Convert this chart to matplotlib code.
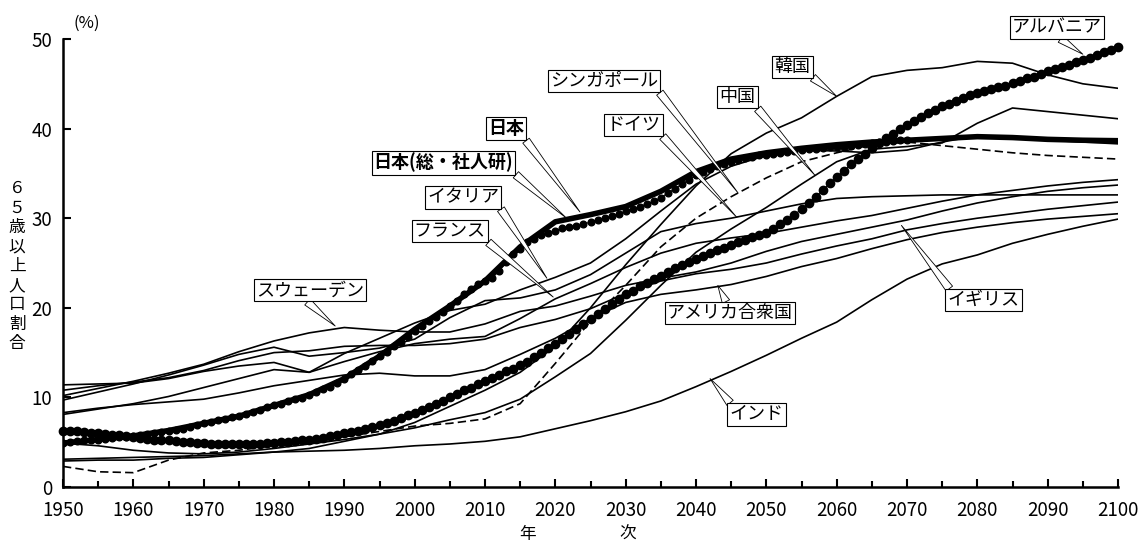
import numpy as np
import matplotlib
matplotlib.use("Agg")
import matplotlib.pyplot as plt
from matplotlib import font_manager as fm
from matplotlib.ticker import MultipleLocator

plt.rcParams['font.family'] = ['Noto Sans CJK JP', 'DejaVu Sans']

_names = {f.name for f in fm.fontManager.ttflist}
NUM_FONT = ['Liberation Sans Narrow', 'Noto Sans CJK JP'] if 'Liberation Sans Narrow' in _names else ['Noto Sans CJK JP', 'DejaVu Sans']

# ---------------- data (percent aged 65+) ----------------
years5 = list(range(1950, 2101, 5))

japan_un = [4.9, 5.3, 5.7, 6.3, 7.1, 7.9, 9.1, 10.3, 12.1, 14.6, 17.6, 20.2, 23.0, 26.8, 29.6, 30.4,
            31.3, 33.0, 35.2, 36.6, 37.3, 37.8, 38.2, 38.5, 38.7, 38.9, 39.1, 39.0, 38.8, 38.7, 38.65]
sweden = [10.2, 11.0, 11.8, 12.7, 13.7, 15.1, 16.3, 17.2, 17.8, 17.5, 17.3, 17.3, 18.2, 19.6, 20.2, 21.3,
          22.5, 23.3, 24.0, 25.0, 26.3, 27.4, 28.2, 29.0, 29.8, 30.8, 31.7, 32.4, 33.0, 33.4, 33.7]
france = [11.4, 11.5, 11.6, 12.1, 12.9, 13.5, 13.9, 12.8, 14.0, 15.1, 16.0, 16.5, 16.8, 18.8, 21.0, 22.7,
          24.5, 26.1, 27.2, 27.8, 28.3, 29.0, 29.7, 30.3, 31.1, 31.9, 32.6, 33.1, 33.6, 34.0, 34.3]
germany = [9.7, 10.6, 11.5, 12.5, 13.6, 14.8, 15.6, 14.6, 15.0, 15.5, 16.5, 18.9, 20.8, 21.1, 22.0, 23.7,
           26.1, 28.5, 29.4, 30.0, 30.8, 31.6, 32.2, 32.4, 32.5, 32.6, 32.6, 32.6, 32.6, 32.6, 32.6]
italy = [8.1, 8.7, 9.3, 10.1, 11.1, 12.1, 13.1, 12.8, 14.9, 16.6, 18.3, 19.7, 20.4, 22.0, 23.4, 25.0,
         27.7, 30.8, 33.8, 35.8, 37.0, 37.6, 37.5, 37.3, 37.6, 38.5, 39.2, 39.0, 38.7, 38.5, 38.3]
uk = [10.8, 11.3, 11.7, 12.2, 13.0, 14.1, 15.0, 15.2, 15.7, 15.8, 15.8, 16.0, 16.5, 17.8, 18.7, 19.9,
      21.6, 23.0, 23.8, 24.3, 25.0, 26.0, 26.9, 27.7, 28.7, 29.4, 30.0, 30.5, 31.0, 31.4, 31.8]
usa = [8.3, 8.8, 9.2, 9.5, 9.8, 10.5, 11.3, 11.9, 12.5, 12.7, 12.4, 12.4, 13.1, 14.8, 16.6, 18.8,
       20.6, 21.5, 22.0, 22.6, 23.5, 24.6, 25.5, 26.6, 27.6, 28.4, 29.0, 29.5, 29.9, 30.2, 30.5]
korea = [2.9, 3.0, 3.0, 3.2, 3.3, 3.6, 3.9, 4.3, 5.1, 5.9, 7.2, 9.0, 10.8, 12.8, 15.7, 20.0,
         24.8, 29.3, 33.6, 37.2, 39.5, 41.2, 43.6, 45.8, 46.5, 46.8, 47.5, 47.3, 46.0, 45.0, 44.5]
china = [4.9, 4.6, 4.1, 3.8, 3.7, 3.9, 4.3, 4.8, 5.3, 5.9, 6.6, 7.5, 8.3, 9.8, 12.3, 14.9,
         18.6, 22.5, 26.2, 28.8, 31.2, 33.8, 36.3, 37.7, 38.0, 38.4, 40.6, 42.3, 41.9, 41.5, 41.1]
india = [3.1, 3.2, 3.3, 3.4, 3.5, 3.7, 3.9, 4.0, 4.1, 4.3, 4.6, 4.8, 5.1, 5.6, 6.5, 7.4,
         8.4, 9.6, 11.2, 12.9, 14.7, 16.6, 18.4, 20.9, 23.2, 24.9, 25.9, 27.2, 28.2, 29.1, 29.9]
singapore = [2.3, 1.7, 1.6, 3.0, 3.8, 4.1, 4.6, 5.1, 5.6, 6.2, 6.8, 7.1, 7.6, 9.3, 13.8, 18.5,
             22.5, 26.8, 30.0, 32.4, 34.5, 36.3, 37.3, 38.2, 38.5, 38.1, 37.7, 37.3, 37.0, 36.8, 36.6]

# annual series drawn with dots
years_ipss = list(range(1950, 2071))
japan_ipss = [4.9, 5.0, 5.1, 5.2, 5.3, 5.3, 5.4, 5.5, 5.6, 5.6,
              5.7, 5.8, 5.9, 6.0, 6.1, 6.3, 6.4, 6.5, 6.7, 6.9,
              7.1, 7.3, 7.5, 7.6, 7.8, 7.9, 8.1, 8.4, 8.6, 8.9,
              9.1, 9.3, 9.6, 9.8, 9.9, 10.3, 10.6, 10.9, 11.2, 11.6,
              12.1, 12.6, 13.1, 13.5, 14.1, 14.6, 15.1, 15.7, 16.2, 16.7,
              17.4, 18.0, 18.5, 19.0, 19.5, 20.2, 20.8, 21.5, 22.1, 22.7,
              23.0, 23.3, 24.1, 25.1, 26.0, 26.6, 27.3, 27.7, 28.1, 28.4,
              28.6, 28.9, 29.0, 29.1, 29.3, 29.6, 29.8, 30.0, 30.2, 30.5,
              30.8, 31.0, 31.3, 31.6, 31.9, 32.3, 32.8, 33.3, 33.8, 34.3,
              34.8, 35.2, 35.5, 35.8, 36.1, 36.3, 36.5, 36.7, 36.8, 37.0,
              37.1, 37.2, 37.3, 37.4, 37.5, 37.6, 37.7, 37.7, 37.8, 37.9,
              37.9, 38.0, 38.1, 38.2, 38.3, 38.4, 38.5, 38.5, 38.6, 38.7,
              38.7]
years_alb = list(range(1950, 2101))
albania = [6.3, 6.25, 6.2, 6.1, 6.05, 6.0, 5.9, 5.8, 5.75, 5.7,
           5.6, 5.5, 5.4, 5.3, 5.25, 5.2, 5.1, 5.0, 5.0, 4.95,
           4.9, 4.85, 4.8, 4.8, 4.8, 4.8, 4.8, 4.8, 4.85, 4.9,
           4.95, 5.0, 5.05, 5.1, 5.2, 5.3, 5.4, 5.5, 5.65, 5.8,
           6.0, 6.15, 6.3, 6.5, 6.7, 6.9, 7.15, 7.4, 7.7, 8.0,
           8.3, 8.6, 8.9, 9.3, 9.65, 10.0, 10.4, 10.8, 11.1, 11.5,
           11.8, 12.2, 12.5, 12.9, 13.2, 13.6, 14.0, 14.5, 15.0, 15.5,
           16.0, 16.5, 17.1, 17.6, 18.2, 18.8, 19.3, 19.9, 20.4, 21.0,
           21.5, 21.9, 22.4, 22.8, 23.2, 23.6, 24.0, 24.4, 24.8, 25.1,
           25.5, 25.8, 26.1, 26.4, 26.7, 27.0, 27.3, 27.6, 27.9, 28.1,
           28.4, 28.8, 29.3, 29.8, 30.4, 31.0, 31.7, 32.4, 33.1, 33.9,
           34.6, 35.3, 36.0, 36.6, 37.2, 37.8, 38.4, 38.9, 39.4, 39.9,
           40.4, 40.8, 41.3, 41.7, 42.1, 42.5, 42.8, 43.1, 43.4, 43.7,
           44.0, 44.2, 44.4, 44.6, 44.8, 45.1, 45.3, 45.6, 45.8, 46.1,
           46.4, 46.6, 46.9, 47.1, 47.4, 47.7, 47.9, 48.2, 48.5, 48.8,
           49.1]

x_ticks = list(range(1950, 2101, 10))
y_ticks = [0, 10, 20, 30, 40, 50]

# ---------------- figure ----------------
W, H = 1140, 543
fig = plt.figure(figsize=(W / 100, H / 100), dpi=100)
fig.patch.set_facecolor('white')
ax = fig.add_axes([63 / W, 1 - 487 / H, 1055 / W, 448 / H])
ax.set_xlim(1950, 2100)
ax.set_ylim(0, 50)

thin = dict(color='black', lw=1.2, solid_joinstyle='round')
for series in (sweden, france, germany, italy, uk, usa, korea, china, india):
    ax.plot(years5, series, zorder=2, **thin)
ax.plot(years5, singapore, color='black', lw=1.2, dashes=(5, 2.5), zorder=2)
ax.plot(years5, japan_un, color='black', lw=4.0, solid_capstyle='round', zorder=3)
ax.plot(years_ipss, japan_ipss, color='black', lw=0.8, marker='o', ms=4.8,
        mfc='black', mec='black', zorder=4)
ax.plot(years_alb, albania, color='black', lw=0.8, marker='o', ms=6.0,
        mfc='black', mec='black', zorder=4, clip_on=False)

# axes styling
for s in ('top', 'right'):
    ax.spines[s].set_visible(False)
for s in ('left', 'bottom'):
    ax.spines[s].set_linewidth(1.8)
ax.set_xticks(x_ticks)
ax.set_yticks(y_ticks)
ax.xaxis.set_minor_locator(MultipleLocator(5))
ax.tick_params(axis='both', which='major', direction='in', length=6, width=1.5,
               labelsize=13.5)
ax.tick_params(axis='x', which='major', pad=9)
ax.tick_params(axis='y', which='major', pad=8)
ax.tick_params(axis='x', which='minor', direction='in', length=4.5, width=1.5)
for lab in ax.get_xticklabels() + ax.get_yticklabels():
    lab.set_family(NUM_FONT)

# ---------------- callout labels ----------------
def callout(text, xytext, xy, relpos, bold=False):
    ax.annotate(text, xy=xy, xytext=xytext, textcoords='data', ha='center', va='center',
                fontsize=13, fontweight='bold' if bold else 'normal', zorder=8,
                bbox=dict(boxstyle='square,pad=0.12', fc='white', ec='black', lw=0.8),
                arrowprops=dict(arrowstyle='wedge,tail_width=0.45', fc='white', ec='black',
                                lw=0.6, relpos=relpos, shrinkA=0, shrinkB=0))

callout('日本', (2013.0, 40.0), (2023.5, 30.7), (1.0, 0.0), bold=True)
callout('日本(総・社人研)', (2004.1, 36.2), (2021.6, 30.0), (1.0, 0.0), bold=True)
callout('イタリア', (2006.9, 32.3), (2018.8, 23.3), (1.0, 0.0))
callout('フランス', (2005.0, 28.55), (2019.7, 21.2), (1.0, 0.0))
callout('スウェーデン', (1985.1, 21.95), (1988.7, 17.97), (0.45, 0.0))
callout('シンガポール', (2026.9, 45.3), (2046.0, 32.8), (1.0, 0.0))
callout('ドイツ', (2031.1, 40.4), (2045.8, 30.1), (1.0, 0.0))
callout('中国', (2045.9, 43.5), (2056.9, 34.8), (1.0, 0.0))
callout('韓国', (2053.7, 46.9), (2060.0, 43.6), (1.0, 0.0))
callout('アルバニア', (2091.3, 51.3), (2095.0, 48.3), (0.5, 0.0))
callout('アメリカ合衆国', (2044.8, 19.4), (2043.1, 22.5), (0.48, 1.0))
callout('イギリス', (2080.9, 20.85), (2069.2, 29.2), (0.05, 1.0))
callout('インド', (2048.6, 8.1), (2042.0, 12.1), (0.05, 1.0))

# ---------------- axis texts ----------------
fig.text(87 / W, 1 - 23 / H, '(%)', ha='center', va='center', fontsize=12)
fig.text(17 / W, 1 - 266 / H, '\n'.join('６５歳以上人口割合'), ha='center', va='center',
         fontsize=12, linespacing=1.18)
fig.text(528 / W, 1 - 534 / H, '年', ha='center', va='center', fontsize=12)
fig.text(628 / W, 1 - 534 / H, '次', ha='center', va='center', fontsize=12)

fig.savefig('out.png', dpi=100, facecolor='white')
